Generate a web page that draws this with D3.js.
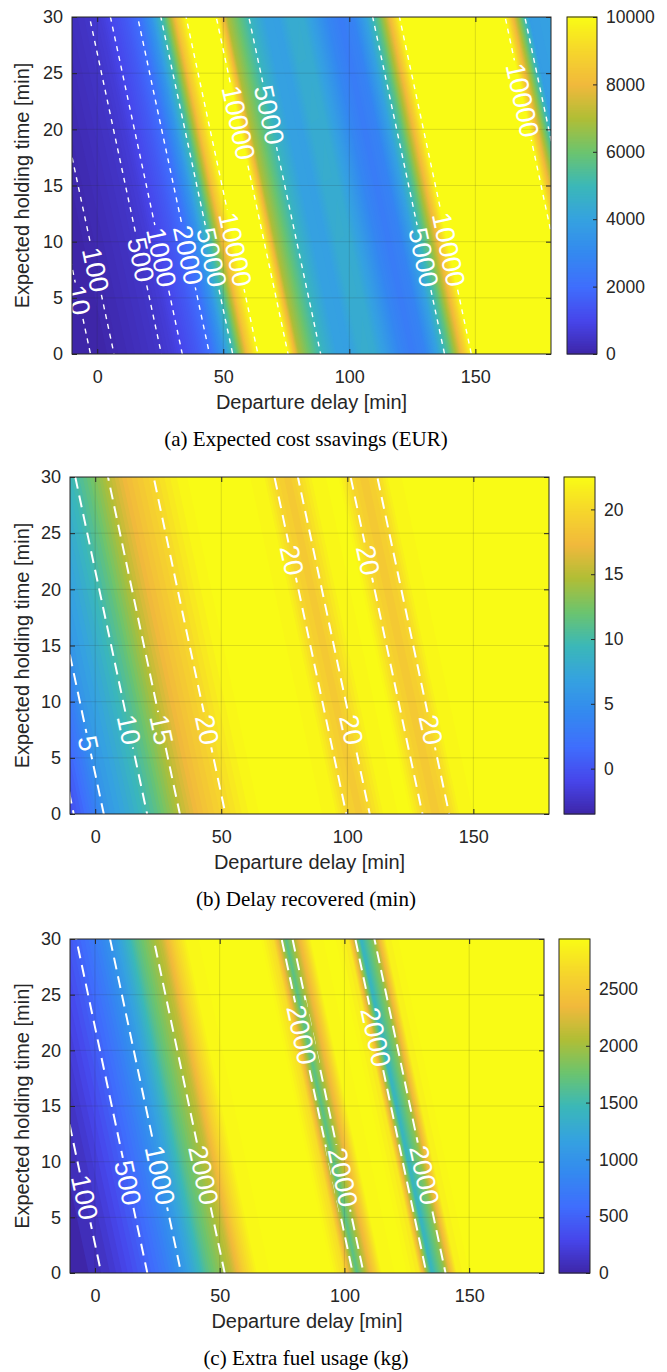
<!DOCTYPE html>
<html>
<head>
<meta charset="utf-8">
<script src="https://cdn.jsdelivr.net/npm/d3@7"></script>
<style>
  body { margin: 0; background: #fff; }
  svg text { font-family: "Liberation Sans", Arial, sans-serif; fill: #262626; }
  svg text.caption { font-family: "Liberation Serif", "Times New Roman", serif; fill: #000; }
  svg text.clabel { fill: #fff; }
</style>
</head>
<body>
<svg id="fig" width="667" height="1372"></svg>
<script>
// === Dane ===
const delayRange = [-10, 180];
const holdRange = [0, 30];
const delayTicks = [0, 50, 100, 150];
const holdTicks = [0, 5, 10, 15, 20, 25, 30];

// profiles are read every 5 min of total delay, from -10 to 210 min;
// one minute of holding shifts the pattern by ~0.95 min of departure delay
const profileStep = 5;
const holdShift = 0.95;

const savingsProfile = [0, 3, 18, 75, 150, 250, 360, 480, 700, 1100, 1500, 2050, 3500, 5500, 8500,
  10500, 14000, 10500, 7000, 5800, 4700, 4000, 3900, 4500, 4400, 3700, 2900, 2500, 2800, 4000,
  5800, 8300, 10800, 12500, 13500, 14000, 14000, 13500, 13000, 12000, 10200, 7000, 3800, 3900, 4000];
const recoveredProfile = [-0.5, 1.2, 3.3, 5.8, 7.0, 8.3, 9.8, 11.5, 13.5, 15.6, 17.3, 18.5, 19.6, 20.8, 21.9,
  22.5, 22.5, 22.5, 22.5, 22.5, 22.5, 22.3, 19.8, 18.6, 20.4, 22.3, 22.5, 22.5, 19.9, 18.6,
  19.8, 22.3, 22.5, 22.5, 22.5, 22.5, 22.5, 22.5, 22.5, 22.5, 22.5, 22.5, 22.5, 22.5, 22.5];
const fuelProfile = [0, 30, 70, 130, 230, 340, 470, 620, 800, 1020, 1300, 1650, 1900, 2150, 2600,
  2900, 2940, 2940, 2940, 2940, 2940, 2940, 2700, 1650, 2300, 2900, 2940, 2940, 2800, 1400,
  1900, 2850, 2940, 2940, 2940, 2940, 2940, 2940, 2940, 2940, 2940, 2940, 2940, 2940, 2940];

const savingsLevels = [10, 100, 500, 1000, 2000, 5000, 10000];
const recoveredLevels = [0, 5, 10, 15, 20];
const fuelLevels = [100, 500, 1000, 2000];

const savingsLimits = [0, 10000];
const recoveredLimits = [-3.5, 22.5];
const fuelLimits = [0, 2940];

const savingsBarTicks = [0, 2000, 4000, 6000, 8000, 10000];
const recoveredBarTicks = [0, 5, 10, 15, 20];
const fuelBarTicks = [0, 500, 1000, 1500, 2000, 2500];

// contour labels: [level, holding time, departure delay near the label]
const savingsLabels = [[10, 4.8, -6.4], [100, 7.5, -1.6], [500, 8.4, 15.8], [1000, 8.6, 25],
  [2000, 8.8, 35.6], [5000, 8.6, 46], [10000, 9.3, 58.6], [10000, 20.6, 54.6], [5000, 21.3, 67.3],
  [5000, 8.6, 129], [10000, 9.3, 141.7], [10000, 22.6, 166.7]];
const recoveredLabels = [[5, 6.3, -3.2], [10, 7.5, 14.3], [15, 7.5, 25.5], [20, 7.5, 44.6],
  [20, 22.6, 79.2], [20, 7.5, 101.9], [20, 22.6, 109], [20, 7.5, 133.7]];
const fuelLabels = [[100, 6.8, -4.4], [500, 8.1, 12.4], [1000, 8.8, 26.4], [2000, 8.8, 42.3],
  [2000, 21.4, 81], [2000, 8.6, 98.3], [2000, 21.2, 110.3], [2000, 8.8, 131.4]];

const captions = ["(a) Expected cost ssavings (EUR)", "(b) Delay recovered (min)", "(c) Extra fuel usage (kg)"];
const xLabel = "Departure delay [min]";
const yLabel = "Expected holding time [min]";

// === Kolory (parula) ===
const parula = d3.piecewise(d3.interpolateRgb, ["#3e26a8", "#4746eb", "#3f6efd", "#3489f0", "#35a2e0",
  "#3bb8b8", "#6cc46e", "#b0be36", "#f1b93c", "#f6d62c", "#f9fb15"]);

const panels = [
  { key: "a", profile: savingsProfile, levels: savingsLevels, labels: savingsLabels, limits: savingsLimits,
    barTicks: savingsBarTicks, caption: captions[0], left: 72, right: 551, top: 17, bottom: 354,
    barLeft: 567, barRight: 597, captionY: 446, bands: 160, dash: "5,5", lineWidth: 1.4 },
  { key: "b", profile: recoveredProfile, levels: recoveredLevels, labels: recoveredLabels, limits: recoveredLimits,
    barTicks: recoveredBarTicks, caption: captions[1], left: 70, right: 549, top: 477, bottom: 814,
    barLeft: 564, barRight: 595, captionY: 906, bands: 52, dash: "12,7", lineWidth: 2 },
  { key: "c", profile: fuelProfile, levels: fuelLevels, labels: fuelLabels, limits: fuelLimits,
    barTicks: fuelBarTicks, caption: captions[2], left: 70, right: 544, top: 939, bottom: 1273,
    barLeft: 559, barRight: 590, captionY: 1365, bands: 59, dash: "12,7", lineWidth: 2 }
];

const svg = d3.select("#fig");
const labelSize = 27;
const plain = d3.format("d");

function crossing(geo, toPx, py, px0) {
  let best = null;
  geo.coordinates.forEach(poly => poly.forEach(ring => {
    const pts = ring.map(toPx);
    for (let k = 0; k < pts.length - 1; k++) {
      const a = pts[k], b = pts[k + 1];
      if ((a[1] - py) * (b[1] - py) > 0 || a[1] === b[1]) continue;
      const xi = a[0] + (py - a[1]) / (b[1] - a[1]) * (b[0] - a[0]);
      if (best === null || Math.abs(xi - px0) < Math.abs(best - px0)) best = xi;
    }
  }));
  return best;
}

function drawPanel(p) {
  const x = d3.scaleLinear().domain(delayRange).range([p.left, p.right]);
  const y = d3.scaleLinear().domain(holdRange).range([p.bottom, p.top]);
  const [lo, hi] = p.limits;
  const color = v => parula(Math.max(0, Math.min(1, (v - lo) / (hi - lo))));

  // table for d3.contours: row j = holding step, column i = delay step
  const nx = Math.round((delayRange[1] - delayRange[0]) / profileStep) + 1;
  const ny = p.profile.length - nx + 1;
  const table = [];
  for (let j = 0; j < ny; j++) for (let i = 0; i < nx; i++) table.push(p.profile[i + j]);
  const rowStep = profileStep / holdShift;
  const toPx = ([c0, c1]) => [x(delayRange[0] + (c0 - 0.5) * profileStep), y((c1 - 0.5) * rowStep)];
  const path = d3.geoPath(d3.geoTransform({
    point(a, b) { const q = toPx([a, b]); this.stream.point(q[0], q[1]); }
  }));

  const clipId = "clip-" + p.key;
  svg.append("clipPath").attr("id", clipId).append("rect")
    .attr("x", p.left).attr("y", p.top).attr("width", p.right - p.left).attr("height", p.bottom - p.top);
  const plot = svg.append("g").attr("clip-path", `url(#${clipId})`);

  // filled bands
  const step = (hi - lo) / p.bands;
  plot.append("rect").attr("x", p.left).attr("y", p.top)
    .attr("width", p.right - p.left).attr("height", p.bottom - p.top).attr("fill", color(lo));
  const fills = d3.contours().size([nx, ny]).thresholds(d3.range(1, p.bands + 1).map(k => lo + k * step))(table);
  plot.append("g").selectAll("path").data(fills).join("path")
    .attr("d", path)
    .attr("fill", d => color(Math.min(hi, d.value + step / 2)));

  // grid
  const grid = plot.append("g").attr("stroke", "#262626").attr("stroke-opacity", 0.15).attr("stroke-width", 1);
  grid.selectAll("line.gx").data(delayTicks).join("line")
    .attr("x1", d => x(d)).attr("x2", d => x(d)).attr("y1", p.top).attr("y2", p.bottom);
  grid.selectAll("line.gy").data(holdTicks).join("line")
    .attr("x1", p.left).attr("x2", p.right).attr("y1", d => y(d)).attr("y2", d => y(d));

  // contour lines with labels
  const lines = d3.contours().size([nx, ny]).thresholds(p.levels)(table);
  const maskId = "mask-" + p.key;
  const mask = svg.append("mask").attr("id", maskId).attr("maskUnits", "userSpaceOnUse")
    .attr("x", 0).attr("y", 0).attr("width", 667).attr("height", 1372);
  mask.append("rect").attr("width", 667).attr("height", 1372).attr("fill", "#fff");
  const lineG = plot.append("g").attr("mask", `url(#${maskId})`);
  const labelG = plot.append("g");

  lineG.selectAll("path").data(lines).join("path")
    .attr("d", path)
    .attr("fill", "none")
    .attr("stroke", "#fff")
    .attr("stroke-width", p.lineWidth)
    .attr("stroke-dasharray", p.dash);

  p.labels.forEach(([level, hv, dv]) => {
    const geo = lines.find(d => d.value === level);
    const py = y(hv);
    const px = crossing(geo, toPx, py, x(dv));
    if (px === null) return;
    const up = crossing(geo, toPx, py - 12, px), down = crossing(geo, toPx, py + 12, px);
    let ang = Math.atan2(24, down - up) * 180 / Math.PI;
    if (ang > 90) ang -= 180;
    const tf = `translate(${px},${py}) rotate(${ang})`;
    const t = labelG.append("text").attr("class", "clabel")
      .attr("transform", tf).attr("text-anchor", "middle").attr("dy", "0.36em")
      .style("font-size", labelSize + "px").text(level);
    const w = t.node().getComputedTextLength();
    mask.append("rect").attr("transform", tf)
      .attr("x", -w / 2 - 3).attr("y", -labelSize * 0.42)
      .attr("width", w + 6).attr("height", labelSize * 0.84).attr("fill", "#000");
  });

  // axes
  const ax = svg.append("g");
  const styleAxis = (g, size) => {
    g.select(".domain").remove();
    g.selectAll(".tick line").attr("stroke", "#262626");
    g.selectAll("text").style("font-size", size + "px").attr("fill", "#262626");
    g.attr("font-family", null);
  };
  ax.append("g").attr("transform", `translate(0,${p.bottom})`)
    .call(d3.axisBottom(x).tickValues(delayTicks).tickSize(-5).tickPadding(16)).call(styleAxis, 18);
  ax.append("g").attr("transform", `translate(0,${p.top})`)
    .call(d3.axisTop(x).tickValues(delayTicks).tickSize(-5).tickFormat("")).call(styleAxis, 18);
  ax.append("g").attr("transform", `translate(${p.left},0)`)
    .call(d3.axisLeft(y).tickValues(holdTicks).tickSize(-5).tickPadding(9)).call(styleAxis, 18);
  ax.append("g").attr("transform", `translate(${p.right},0)`)
    .call(d3.axisRight(y).tickValues(holdTicks).tickSize(-5).tickFormat("")).call(styleAxis, 18);
  ax.append("rect").attr("x", p.left).attr("y", p.top)
    .attr("width", p.right - p.left).attr("height", p.bottom - p.top)
    .attr("fill", "none").attr("stroke", "#262626").attr("stroke-width", 1);

  ax.append("text").attr("x", (p.left + p.right) / 2).attr("y", p.bottom + 55)
    .attr("text-anchor", "middle").style("font-size", "20px").text(xLabel);
  ax.append("text").attr("transform", `translate(29,${(p.top + p.bottom) / 2}) rotate(-90)`)
    .attr("text-anchor", "middle").style("font-size", "20px").text(yLabel);

  // colorbar
  const yb = d3.scaleLinear().domain(p.limits).range([p.bottom, p.top]);
  const slices = d3.range(200).map(k => lo + (hi - lo) * k / 200);
  const sliceH = (p.bottom - p.top) / 200;
  ax.append("g").selectAll("rect").data(slices).join("rect")
    .attr("x", p.barLeft).attr("width", p.barRight - p.barLeft)
    .attr("y", d => yb(d) - sliceH - 0.5).attr("height", sliceH + 1)
    .attr("fill", d => color(d + (hi - lo) / 400));
  ax.append("g").attr("transform", `translate(${p.barRight},0)`)
    .call(d3.axisRight(yb).tickValues(p.barTicks).tickFormat(plain).tickSize(-4).tickPadding(9))
    .call(styleAxis, 17.5);
  ax.append("rect").attr("x", p.barLeft).attr("y", p.top)
    .attr("width", p.barRight - p.barLeft).attr("height", p.bottom - p.top)
    .attr("fill", "none").attr("stroke", "#262626").attr("stroke-width", 1);

  svg.append("text").attr("class", "caption").attr("x", 306).attr("y", p.captionY)
    .attr("text-anchor", "middle").style("font-size", "21px").text(p.caption);
}

panels.forEach(drawPanel);
</script>
</body>
</html>
